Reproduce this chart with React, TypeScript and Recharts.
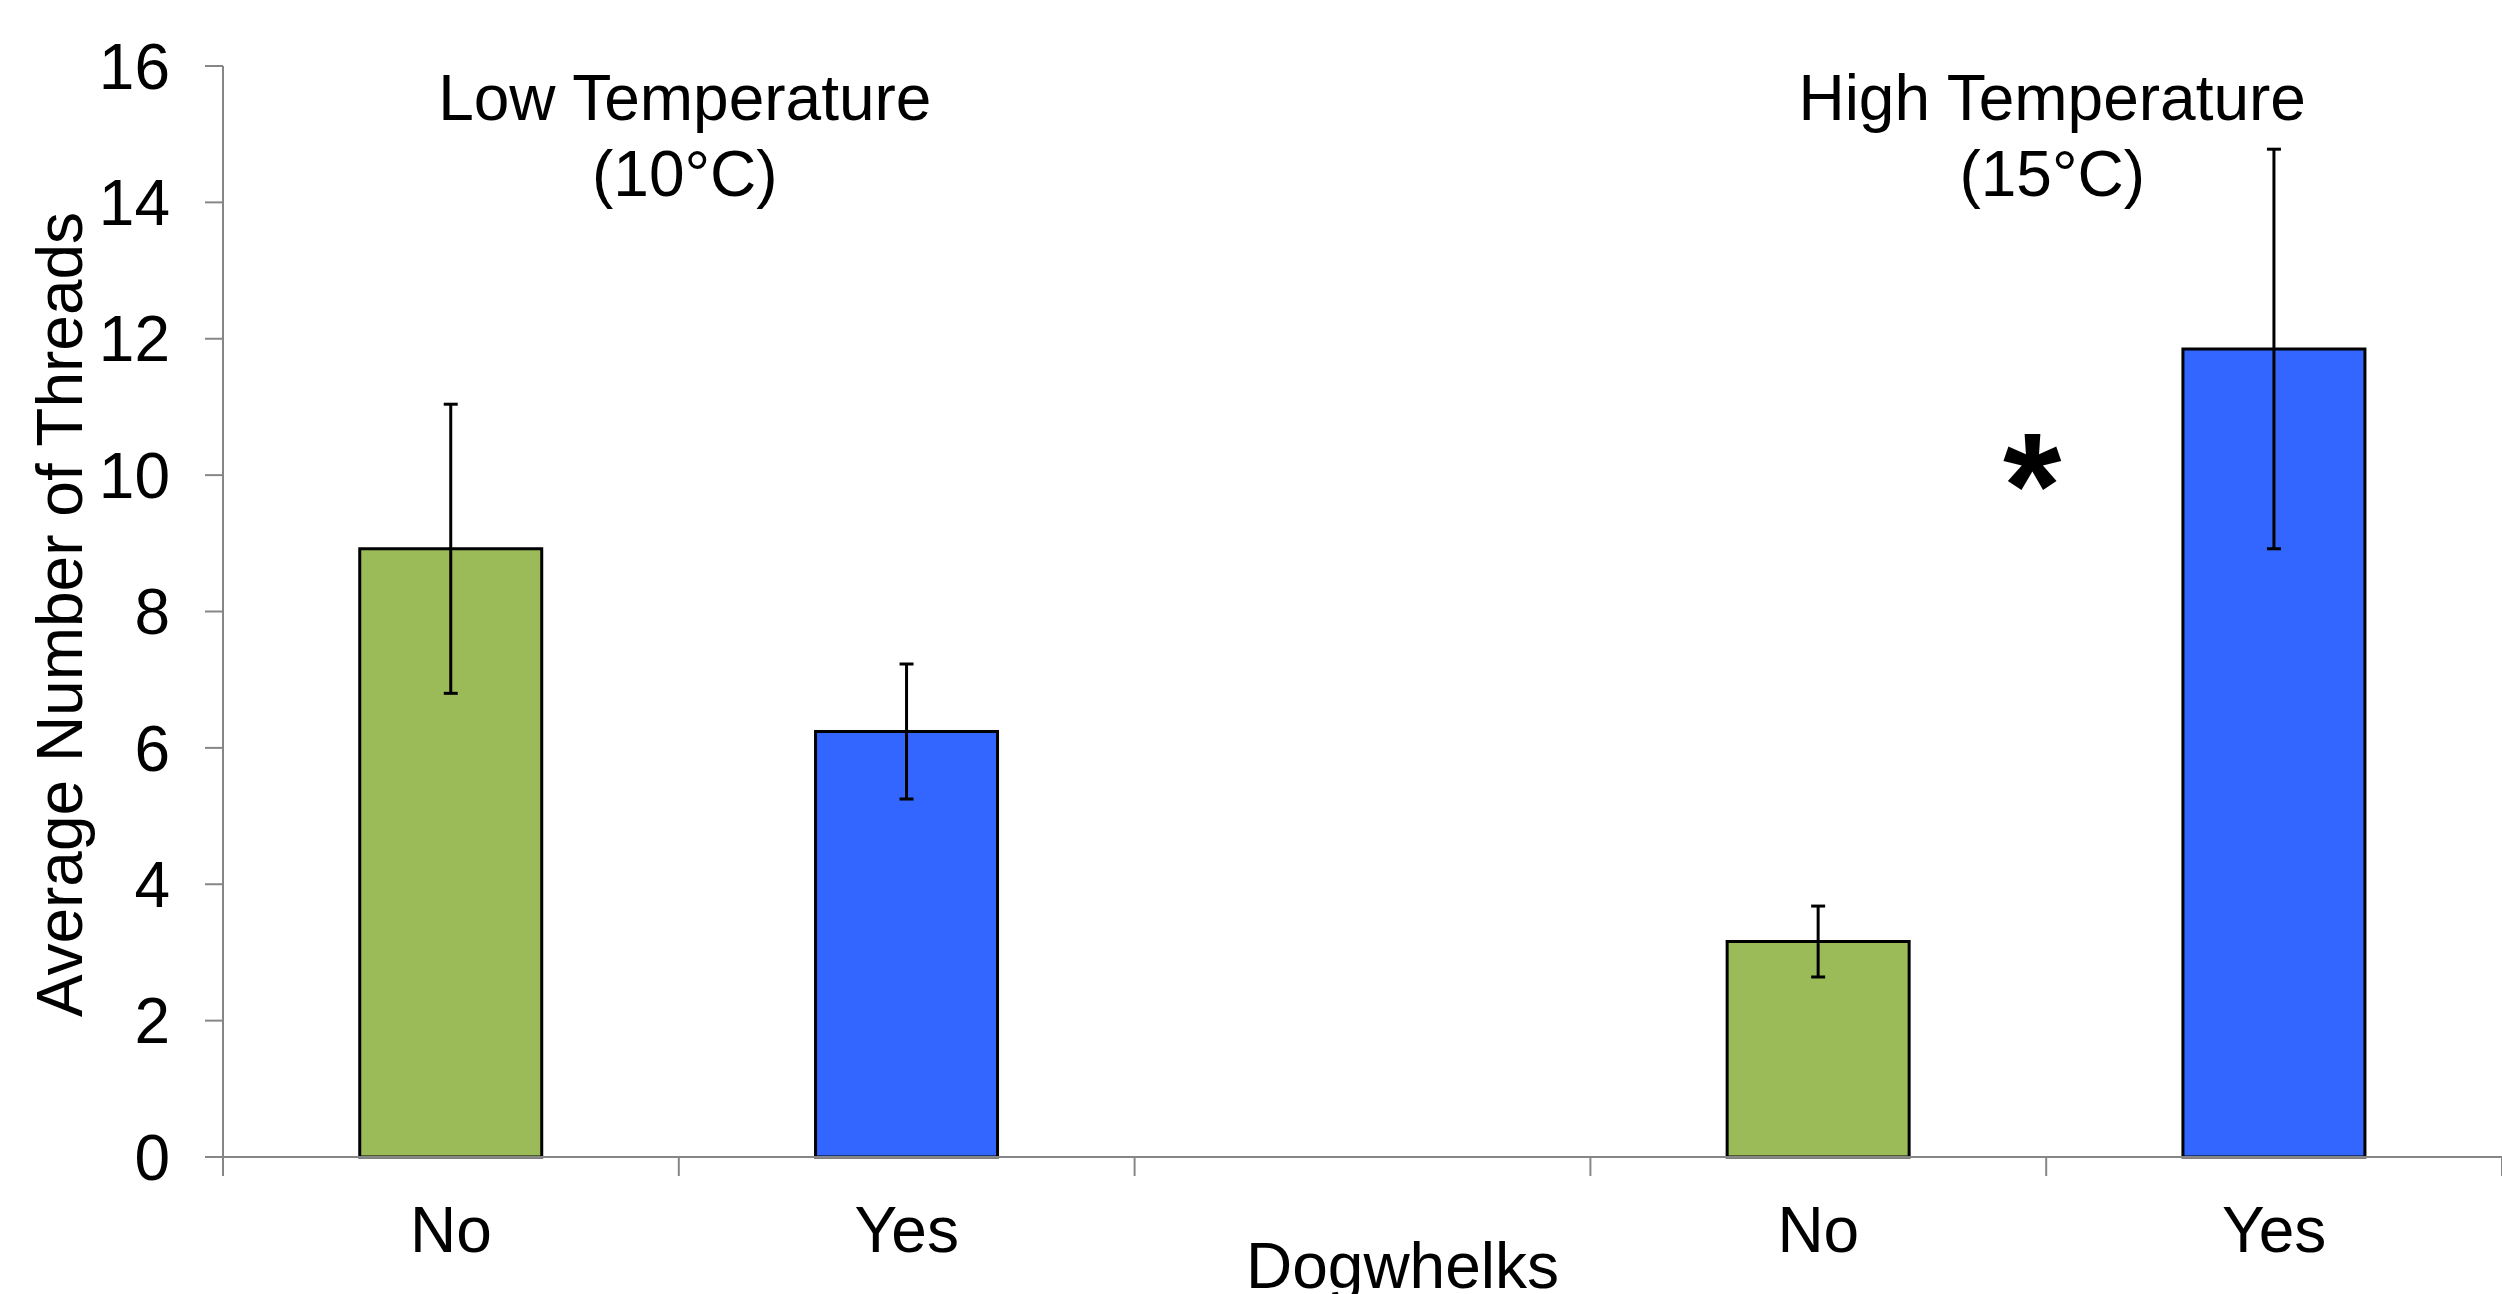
import React from 'react';
import { BarChart, Bar, Cell, XAxis, YAxis, ErrorBar, ReferenceArea, Label } from 'recharts';

// categories along the x axis (a blank slot separates the two temperatures)
const CATEGORY_KEYS = ['low-no', 'low-yes', 'gap', 'high-no', 'high-yes'];
const TICK_LABELS = ['No', 'Yes', '', 'No', 'Yes'];
const MEAN_THREADS = [8.92, 6.24, null, 3.16, 11.85];
const ERRORS = [2.12, 0.99, null, 0.52, 2.93];
const Y_TICKS = [0, 2, 4, 6, 8, 10, 12, 14, 16];

const FONT = "'Liberation Sans', Arial, sans-serif";
const AXIS_GREY = '#868686';
const COLORS: Record<string, string> = { No: '#9BBB59', Yes: '#3366FF' };

const CHART_W = 2502;
const CHART_H = 1294;
const Y_AXIS_W = 223;
const LABEL_GAP = 50;
const SLOT_W = (CHART_W - Y_AXIS_W) / CATEGORY_KEYS.length;

const rows = CATEGORY_KEYS.map((key, i) => ({
  key,
  label: TICK_LABELS[i],
  threads: MEAN_THREADS[i],
  err: ERRORS[i],
}));

// x tick: label under the bar, tick mark on the slot's left edge (Excel style)
const SlotTick = (props: any) => {
  const { x, y, payload } = props;
  const i = CATEGORY_KEYS.indexOf(payload.value);
  const axisY = y - LABEL_GAP;
  const left = x - SLOT_W / 2;
  const right = x + SLOT_W / 2;
  return (
    <g>
      <line x1={left} x2={left} y1={axisY} y2={axisY + 19} stroke={AXIS_GREY} strokeWidth={2} />
      {i === CATEGORY_KEYS.length - 1 && (
        <line x1={right} x2={right} y1={axisY} y2={axisY + 19} stroke={AXIS_GREY} strokeWidth={2} />
      )}
      <text x={x} y={y} dy="0.71em" textAnchor="middle" fontFamily={FONT} fontSize={64} fill="#000">
        {TICK_LABELS[i]}
      </text>
    </g>
  );
};

const groupTitle = (title: string, temp: string, star: boolean) => (props: any) => {
  const { x, y, width } = props.viewBox;
  const cx = x + width / 2;
  return (
    <g fontFamily={FONT} fontSize={64} fill="#000">
      <text x={cx + 6} y={y + 54} textAnchor="middle">{title}</text>
      <text x={cx + 6} y={y + 130} textAnchor="middle">{temp}</text>
      {star && (
        <text x={cx - 14} y={y + 472} textAnchor="middle" fontSize={150} fontWeight="bold">*</text>
      )}
    </g>
  );
};

const yLabel = (props: any) => {
  const { x, y, height } = props.viewBox;
  const lx = x + 82;
  const ly = y + height / 2 + 3;
  return (
    <text x={lx} y={ly} transform={`rotate(-90, ${lx}, ${ly})`} textAnchor="middle"
      fontFamily={FONT} fontSize={64} fill="#000">
      Average Number of Threads
    </text>
  );
};

const xLabel = (props: any) => {
  const { x, y, width, height } = props.viewBox;
  return (
    <text x={x + width / 2 + 40} y={y + height - 6} textAnchor="middle"
      fontFamily={FONT} fontSize={64} fill="#000">
      Dogwhelks
    </text>
  );
};

export default function App() {
  return (
    <div style={{ position: 'absolute', left: 0, top: 0, background: '#fff' }}>
      <BarChart
        width={CHART_W}
        height={CHART_H}
        data={rows}
        margin={{ top: 66, right: 0, bottom: 0, left: 0 }}
        barCategoryGap="30%"
      >
        <XAxis
          dataKey="key"
          tick={<SlotTick />}
          tickLine={false}
          tickSize={0}
          tickMargin={LABEL_GAP}
          height={137}
          interval={0}
          stroke={AXIS_GREY}
          strokeWidth={2}
        >
          <Label content={xLabel} />
        </XAxis>
        <YAxis
          domain={[0, 16]}
          ticks={Y_TICKS}
          interval={0}
          width={Y_AXIS_W}
          tickSize={18}
          tickMargin={35}
          stroke={AXIS_GREY}
          strokeWidth={2}
          tick={{ fontSize: 64, fill: '#000', fontFamily: FONT }}
        >
          <Label content={yLabel} />
        </YAxis>
        <ReferenceArea x1="low-no" x2="low-yes" y1={0} y2={16} fillOpacity={0} strokeOpacity={0}>
          <Label content={groupTitle('Low Temperature', '(10°C)', false)} />
        </ReferenceArea>
        <ReferenceArea x1="high-no" x2="high-yes" y1={0} y2={16} fillOpacity={0} strokeOpacity={0}>
          <Label content={groupTitle('High Temperature', '(15°C)', true)} />
        </ReferenceArea>
        <Bar dataKey="threads" stroke="#000" strokeWidth={3} isAnimationActive={false}>
          {rows.map((r) => (
            <Cell key={r.key} fill={COLORS[r.label] || 'none'} />
          ))}
          <ErrorBar dataKey="err" width={7} stroke="#000" strokeWidth={3} isAnimationActive={false} />
        </Bar>
      </BarChart>
    </div>
  );
}
